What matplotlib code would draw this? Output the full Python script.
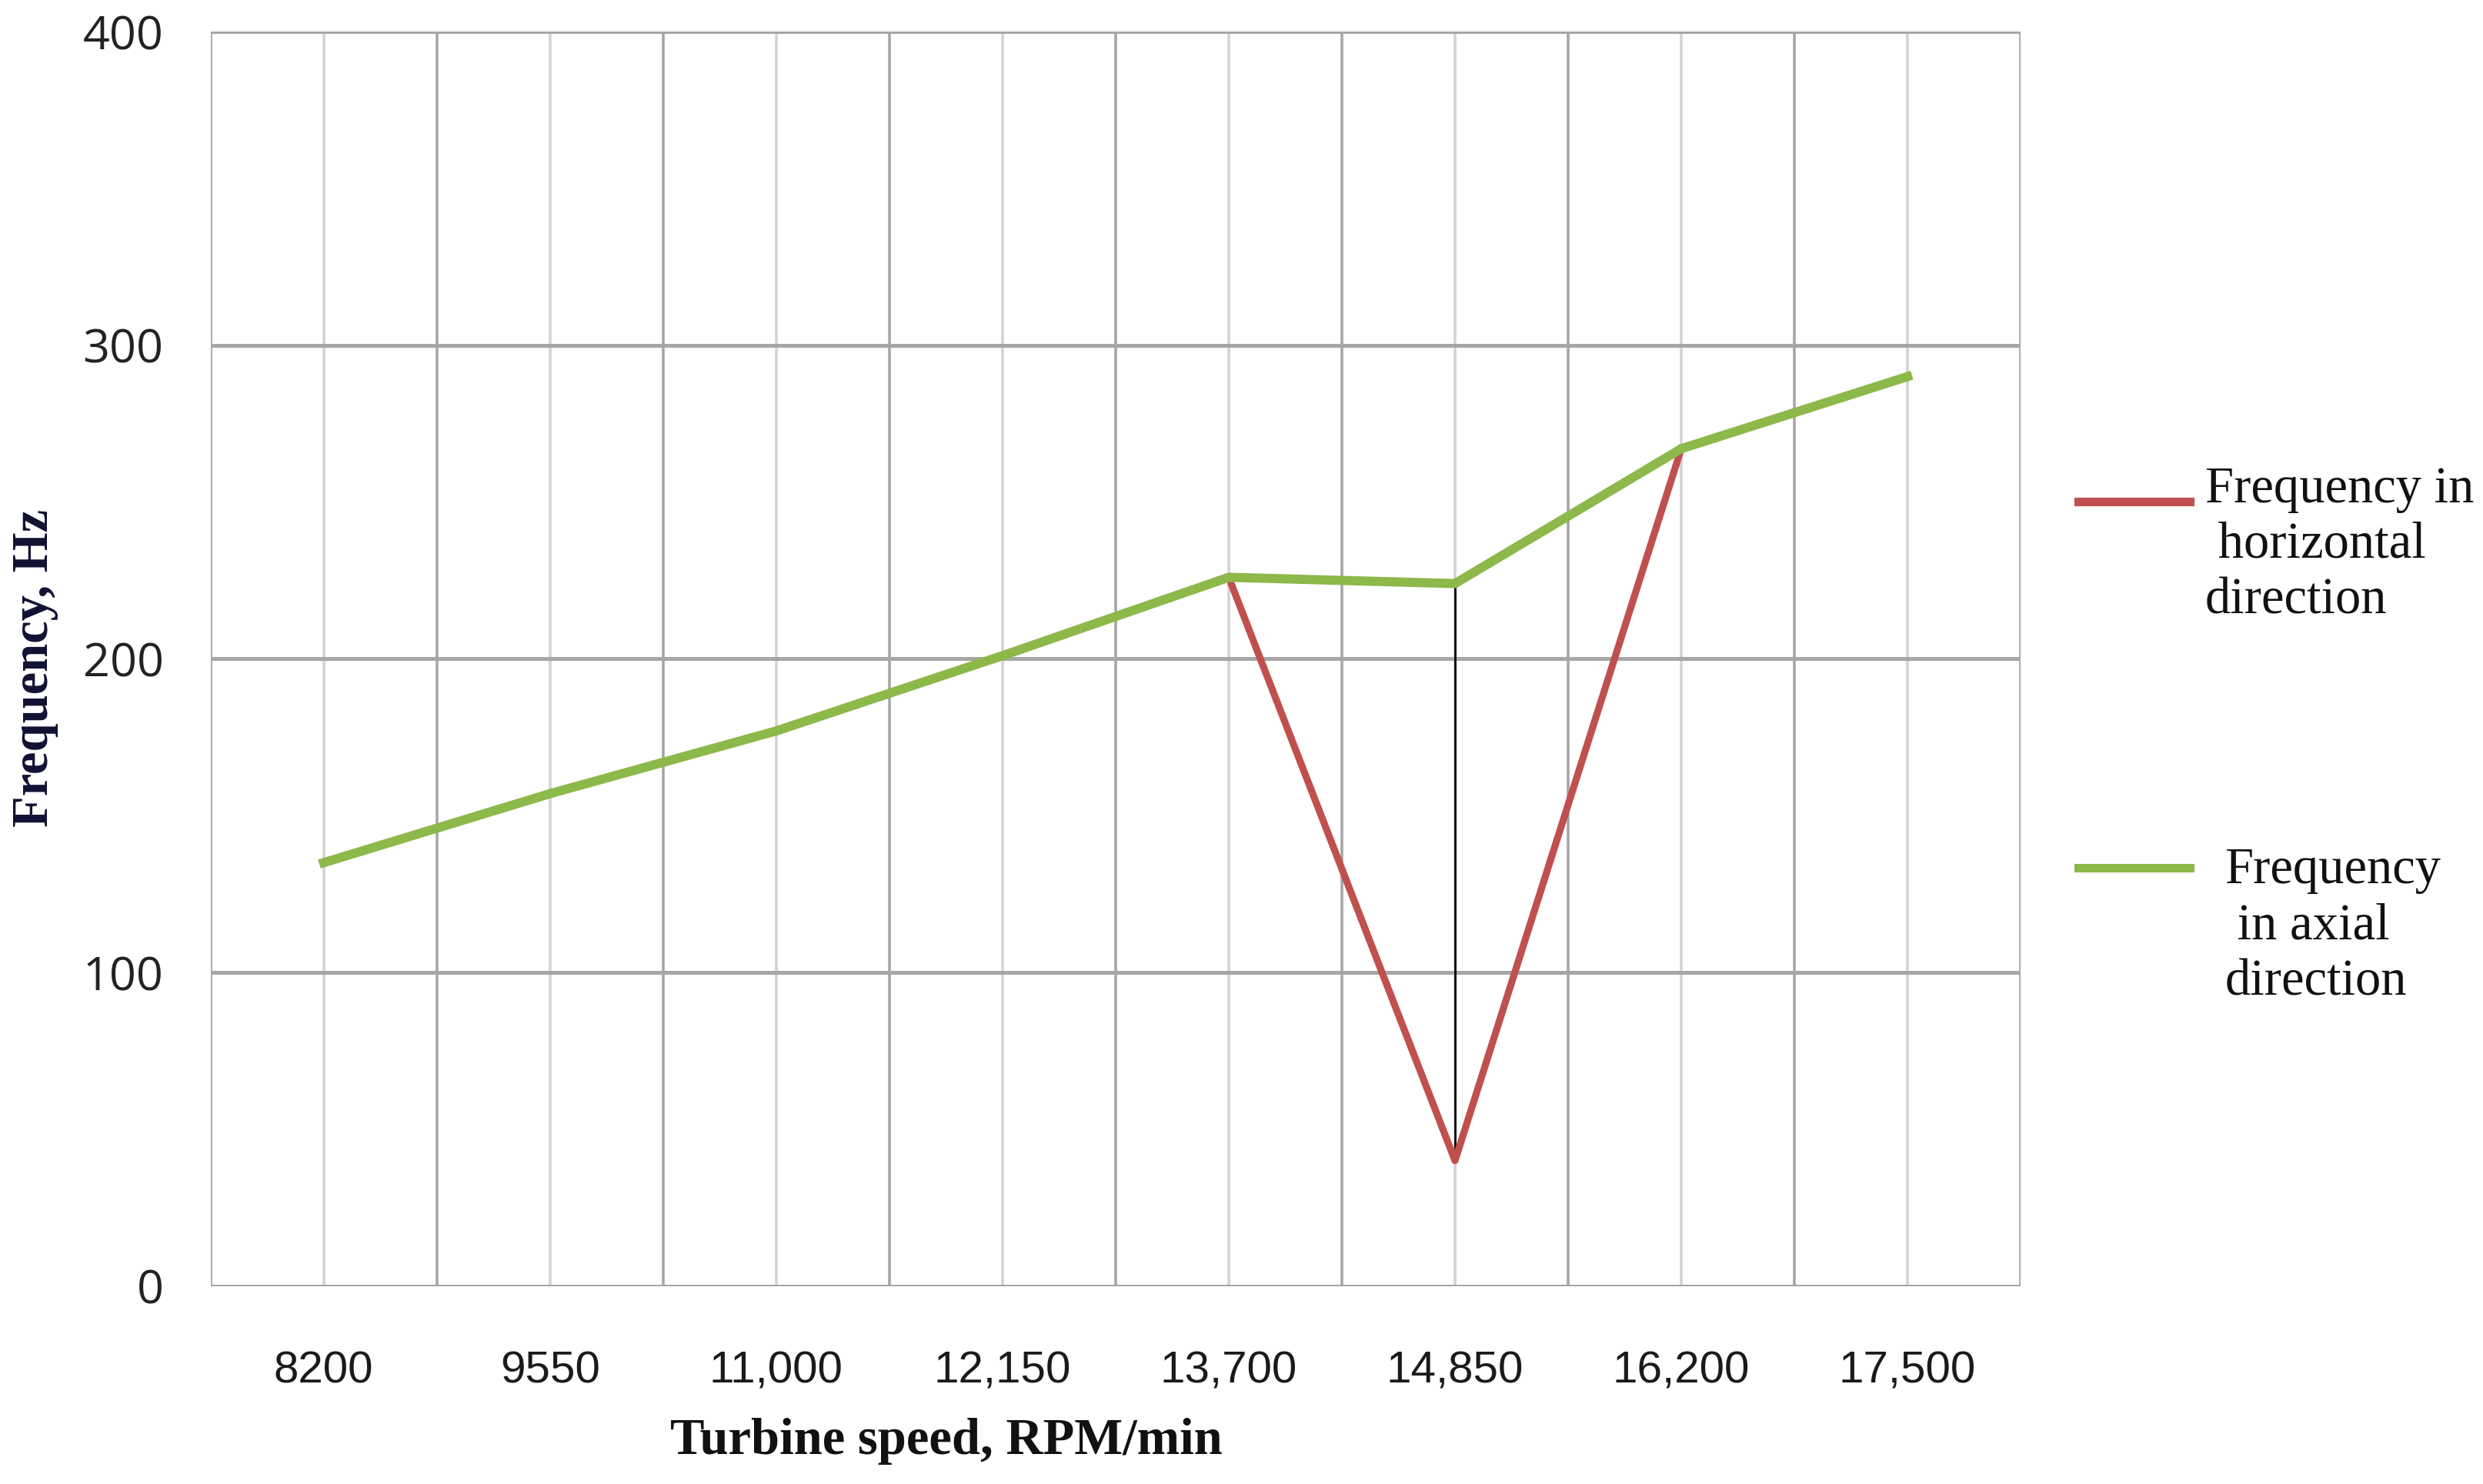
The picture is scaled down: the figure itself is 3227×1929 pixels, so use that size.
import numpy as np
import matplotlib.pyplot as plt

# data
speeds = ['8200', '9550', '11,000', '12,150', '13,700', '14,850', '16,200', '17,500']
freq_axial = [135, 157, 177, 201, 226, 224, 267, 290]
horiz_idx = [4, 5, 6]
freq_horiz = [226, 40, 267]
yticks = [0, 100, 200, 300, 400]

col_red = '#C0504D'
col_green = '#8DB84A'

fig = plt.figure(figsize=(3227/200, 1929/200), dpi=200)
ax = fig.add_axes([0.0848, 0.1334, 0.7290, 0.8453])

x = np.arange(len(speeds))

# grid: darker at category boundaries, lighter at centres
for xb in np.arange(-0.5, len(speeds) + 0.5, 1.0):
  ax.axvline(xb, color='#A6A6A6', lw=1.3, zorder=0)
for xc in x:
  ax.axvline(xc, color='#D3D3D3', lw=1.3, zorder=0)
for yt in yticks:
  ax.axhline(yt, color='#A6A6A6', lw=1.8, zorder=0)

# drop line at 14,850
ax.plot([horiz_idx[1], horiz_idx[1]], [freq_horiz[1], freq_axial[5]],
        color='black', lw=1.0, zorder=1)

ax.plot(horiz_idx, freq_horiz, color=col_red, lw=3.3, zorder=2)
ax.plot(x, freq_axial, color=col_green, lw=4.3, zorder=3)

ax.set_xlim(-0.5, len(speeds) - 0.5)
ax.set_ylim(0, 400)
for s in ax.spines.values():
  s.set_visible(False)

ax.set_xticks(x)
ax.set_xticklabels(speeds, fontfamily='Liberation Sans', fontsize=21,
                   color='#1a1a1a')
ax.set_yticks(yticks)
ax.set_yticklabels([str(v) for v in yticks], fontfamily='Open Sans',
                   fontsize=22, color='#222222')
ax.tick_params(axis='x', length=0, pad=30)
ax.tick_params(axis='y', length=0, pad=22)

fig.text(0.381, 0.029, 'Turbine speed, RPM/min', ha='center', va='center',
         fontfamily='Liberation Serif', fontweight='bold', fontsize=24,
         color='#111111')
fig.text(0.014, 0.550, 'Frequency, Hz', rotation=90, ha='center', va='center',
         fontfamily='Liberation Serif', fontweight='bold', fontsize=24,
         color='#111133')

# legend drawn by hand on the right
fig.lines.append(plt.Line2D([0.837, 0.882], [0.662, 0.662], color=col_red,
                            lw=4.0, transform=fig.transFigure))
fig.text(0.888, 0.686, 'Frequency in\n horizontal\ndirection', ha='left',
         va='top', fontfamily='Liberation Serif', fontsize=24,
         linespacing=1.24, color='#111111')
fig.lines.append(plt.Line2D([0.837, 0.882], [0.415, 0.415], color=col_green,
                            lw=4.0, transform=fig.transFigure))
fig.text(0.896, 0.429, 'Frequency\n in axial\ndirection', ha='left',
         va='top', fontfamily='Liberation Serif', fontsize=24,
         linespacing=1.24, color='#111111')

fig.savefig('out.png', dpi=200, facecolor='white')
